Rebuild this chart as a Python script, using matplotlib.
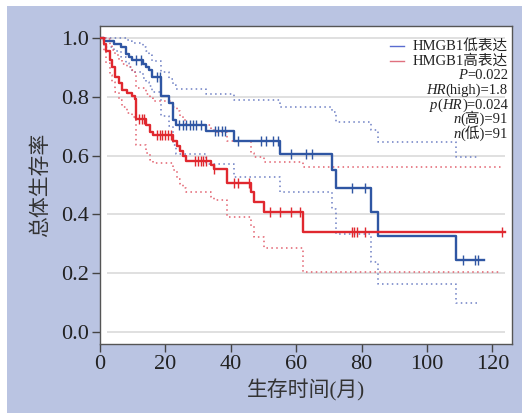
"""Kaplan-Meier overall survival curves for HMGB1 low / high expression."""
import numpy as np
import matplotlib
matplotlib.use("Agg")
import matplotlib.pyplot as plt
from matplotlib.patches import Rectangle

plt.rcParams["font.family"] = ["Liberation Serif", "Noto Sans CJK SC"]

# HMGB1 low expression (blue)
low_times = [0, 1.2, 4.3, 6.3, 7.9, 8.9, 9.9, 13.0, 14.0, 15.0, 16.0, 18.8, 21.2,
             22.2, 23.2, 32.4, 41.1, 55.1, 71.1, 72.1, 83.0, 85.0, 109.0]
low_surv = [1.0, 0.989, 0.978, 0.967, 0.945, 0.934, 0.923, 0.912, 0.901, 0.890,
            0.868, 0.801, 0.779, 0.722, 0.705, 0.682, 0.648, 0.605, 0.552, 0.490,
            0.408, 0.326, 0.245]
low_upper = [1.0, 1.0, 1.0, 0.998, 0.993, 0.988, 0.982, 0.970, 0.955, 0.940, 0.920,
             0.885, 0.860, 0.840, 0.827, 0.808, 0.788, 0.766, 0.749, 0.715, 0.687,
             0.647, 0.594]
low_lower = [1.0, 0.970, 0.955, 0.935, 0.915, 0.900, 0.885, 0.865, 0.850, 0.835,
             0.815, 0.735, 0.700, 0.635, 0.605, 0.572, 0.528, 0.477, 0.420, 0.335,
             0.240, 0.165, 0.100]
low_censor = [10.9, 12.5, 17.3, 18.3, 24.2, 25.3, 26.4, 27.4, 28.4, 29.4, 31.0,
              35.2, 36.2, 37.2, 38.1, 42.1, 49.3, 50.8, 52.9, 54.4, 58.3, 63.1,
              64.9, 77.1, 80.9, 110.9, 114.8, 115.7]
low_end = 117.5
low_ci_end = 116.0

# HMGB1 high expression (red)
high_times = [0, 1.1, 1.9, 3.0, 3.7, 4.7, 5.7, 6.7, 8.3, 9.8, 10.8, 11.1, 14.2,
              15.2, 16.3, 22.4, 23.4, 24.4, 25.5, 26.2, 33.8, 34.9, 38.7, 46.2,
              47.0, 50.1, 62.1]
high_surv = [1.0, 0.978, 0.956, 0.923, 0.901, 0.868, 0.846, 0.824, 0.813, 0.802,
             0.791, 0.725, 0.703, 0.681, 0.670, 0.648, 0.631, 0.614, 0.597, 0.582,
             0.569, 0.554, 0.507, 0.476, 0.441, 0.407, 0.339]
high_upper = [1.0, 1.0, 0.995, 0.975, 0.960, 0.940, 0.925, 0.910, 0.900, 0.890,
              0.880, 0.830, 0.810, 0.795, 0.785, 0.765, 0.750, 0.735, 0.720, 0.705,
              0.690, 0.680, 0.650, 0.607, 0.595, 0.579, 0.560]
high_lower = [1.0, 0.950, 0.915, 0.875, 0.850, 0.815, 0.790, 0.765, 0.745, 0.730,
              0.720, 0.636, 0.610, 0.585, 0.574, 0.551, 0.520, 0.505, 0.490, 0.477,
              0.460, 0.449, 0.392, 0.360, 0.324, 0.287, 0.206]
high_censor = [12.0, 12.7, 13.4, 17.3, 18.2, 19.1, 20.0, 20.8, 21.6, 29.2, 30.0,
               30.8, 31.6, 32.4, 34.9, 41.1, 42.1, 45.5, 52.1, 55.2, 58.3, 61.3,
               77.1, 77.8, 78.6, 80.9, 122.9]
high_end = 124.0
high_ci_end = 122.5

group_labels = ["HMGB1低表达", "HMGB1高表达"]
# (text, italic) pieces of each statistics row
stats_rows = [
    [("P", True), ("=0.022", False)],
    [("HR", True), ("(high)=1.8", False)],
    [("p", True), ("(", False), ("HR", True), (")=0.024", False)],
    [("n", True), ("(高)=91", False)],
    [("n", True), ("(低)=91", False)],
]

BLUE, RED = "#2f56a3", "#e0282f"
BLUE_CI, RED_CI = "#6d7fc4", "#e2606e"
KEY_COLORS = ["#5a6cd0", "#e0707e"]


def step_xy(times, values, end):
    return list(times) + [end], list(values) + [values[-1]]


def surv_at(times, surv, t):
    idx = np.searchsorted(times, t, side="right") - 1
    return np.asarray(surv)[idx]


fig = plt.figure(figsize=(5.29, 4.15), dpi=100, facecolor="white")
fig.patches.append(Rectangle((7 / 529, 2 / 415), 515 / 529, 407 / 415,
                             transform=fig.transFigure, facecolor="#bac4e2",
                             edgecolor="none", zorder=-5))
ax = fig.add_axes([100 / 529, 71 / 415, 412 / 529, 318 / 415])
ax.set_zorder(1)
ax.set_facecolor("white")

yticks = [0.0, 0.2, 0.4, 0.6, 0.8, 1.0]
ax.hlines(yticks, 2, 124, color="#dadada", lw=1.2, zorder=0)

groups = [
    (low_times, low_surv, low_upper, low_lower, low_censor, low_end, low_ci_end, BLUE, BLUE_CI),
    (high_times, high_surv, high_upper, high_lower, high_censor, high_end, high_ci_end, RED, RED_CI),
]
for times, surv, upper, lower, censor, end, ci_end, col, ci_col in groups:
    for band in (upper, lower):
        x, y = step_xy(times, band, ci_end)
        ax.step(x, y, where="post", color=ci_col, lw=1.1, ls=(0, (1, 2.2)), zorder=2)
    x, y = step_xy(times, surv, end)
    ax.step(x, y, where="post", color=col, lw=1.7, zorder=3)
    ax.plot(censor, surv_at(times, surv, censor), ls="none", marker="|",
            ms=7, mew=1.0, color=col, zorder=4)

ax.set_xlim(0, 126)
ax.set_ylim(-0.04, 1.04)
ax.set_xticks([0, 20, 40, 60, 80, 100, 120])
ax.set_yticks(yticks)
ax.set_yticklabels([f"{v:.1f}" for v in yticks])
ax.tick_params(direction="out", length=6, width=1, color="#444444",
               labelsize=16, labelcolor="#222222", pad=2)
for side in ax.spines.values():
    side.set_color("#555555")
    side.set_linewidth(1.0)

ax.set_xlabel("生存时间(月)", fontsize=15, color="#333333", labelpad=4)
ax.set_ylabel("总体生存率", fontsize=15, color="#333333", labelpad=7,
              family=["Noto Sans CJK SC"])

# key lines and test statistics, stacked at the top right
renderer = fig.canvas.get_renderer()
text_x = 0.99
row_y = 0.925
row_step = 0.0462


def right_row(y, pieces):
    # lay pieces out right-to-left so the row ends at text_x
    offset = 0.0
    for txt, italic in reversed(pieces):
        t = ax.annotate(txt, xy=(text_x, y), xycoords="axes fraction",
                        xytext=(-offset, 0), textcoords="offset pixels",
                        ha="right", va="baseline", fontsize=10.5, color="#222222",
                        fontstyle="italic" if italic else "normal")
        offset += t.get_window_extent(renderer).width


for i, (label, kc) in enumerate(zip(group_labels, KEY_COLORS)):
    y = row_y - i * row_step
    right_row(y, [(label, False)])
    ax.plot([0.705, 0.738], [y + 0.012, y + 0.012], transform=ax.transAxes,
            color=kc, lw=1)
for i, pieces in enumerate(stats_rows):
    right_row(row_y - (i + 2) * row_step, pieces)

fig.savefig("out.png", dpi=100)
